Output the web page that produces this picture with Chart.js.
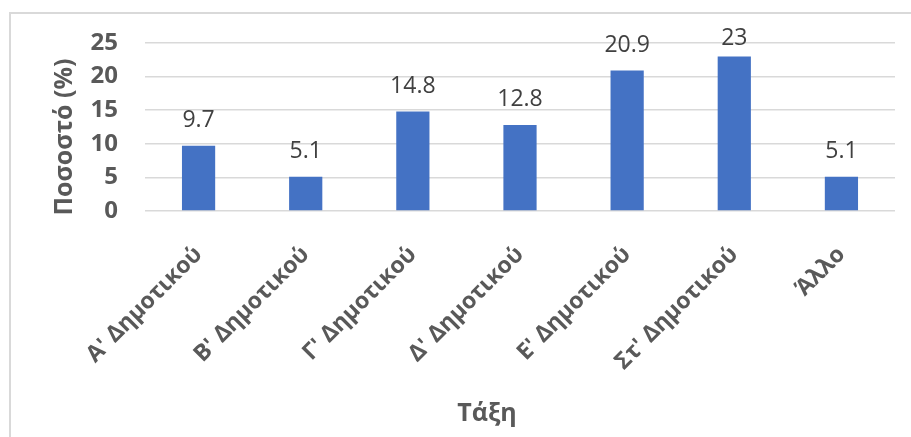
<!DOCTYPE html>
<html>
<head>
<meta charset="utf-8">
<script src="https://cdn.jsdelivr.net/npm/chart.js@4"></script>
<style>
  html, body { margin: 0; padding: 0; background: #fff; }
  #wrap { position: relative; width: 911px; height: 437px; }
</style>
</head>
<body>
<div id="wrap"><canvas id="gradeChart"></canvas></div>
<script>
const grades = ["Α' Δημοτικού", "Β' Δημοτικού", "Γ' Δημοτικού", "Δ' Δημοτικού", "Ε' Δημοτικού", "Στ' Δημοτικού", "Άλλο"];
const percents = [9.7, 5.1, 14.8, 12.8, 20.9, 23, 5.1];
const yTicks = [0, 5, 10, 15, 20, 25];

const FONT = "'Open Sans', 'Noto Sans', sans-serif";
const GREY = '#595959';

document.addEventListener('DOMContentLoaded', function () {
    const canvas = document.getElementById('gradeChart');
    const ctx = canvas.getContext('2d');

    new Chart(ctx, {
        type: 'bar',
        data: {
            labels: grades,
            datasets: [{
                data: percents,
                backgroundColor: '#4472C4',
                borderWidth: 0,
                categoryPercentage: 1,
                barPercentage: 0.31
            }]
        },
        options: {
            responsive: true,
            maintainAspectRatio: false,
            animation: false,
            layout: {
                padding: { top: 43, right: 16, bottom: 0, left: 0 }
            },
            scales: {
                x: {
                    grid: { display: false, drawTicks: false },
                    border: { display: false },
                    ticks: {
                        minRotation: 45,
                        maxRotation: 45,
                        padding: 30,
                        color: GREY,
                        font: { family: FONT, size: 23, weight: 'bold' }
                    },
                    afterFit: (scale) => { scale.height = 226; }
                },
                y: {
                    min: 0,
                    max: 25,
                    afterBuildTicks: (scale) => {
                        scale.ticks = yTicks.map(v => ({ value: v }));
                    },
                    grid: { color: '#d9d9d9', lineWidth: 1.5, drawTicks: false },
                    border: { display: false },
                    ticks: {
                        padding: 27,
                        color: GREY,
                        font: { family: FONT, size: 24, weight: 'bold' }
                    },
                    afterFit: (scale) => { scale.width = 145; }
                }
            },
            plugins: {
                legend: { display: false },
                tooltip: { enabled: false }
            }
        },
        plugins: [{
            id: 'frame',
            beforeDraw: (chart) => {
                const c = chart.ctx;
                c.save();
                c.strokeStyle = '#d9d9d9';
                c.lineWidth = 2;
                c.beginPath();
                c.moveTo(10, chart.height);
                c.lineTo(10, 13);
                c.lineTo(chart.width, 13);
                c.stroke();
                c.restore();
            }
        }, {
            id: 'valueLabels',
            afterDatasetsDraw: (chart) => {
                const c = chart.ctx;
                const area = chart.chartArea;
                const meta = chart.getDatasetMeta(0);
                c.save();
                c.fillStyle = '#404040';
                c.font = '23px ' + FONT;
                c.textAlign = 'center';
                c.textBaseline = 'alphabetic';
                meta.data.forEach((bar, i) => {
                    const y = Math.max(bar.y - 19, area.top + 2);
                    c.fillText(String(percents[i]), bar.x, y);
                });
                c.restore();
            }
        }, {
            id: 'axisTitles',
            afterDraw: (chart) => {
                const c = chart.ctx;
                const area = chart.chartArea;
                c.save();
                c.fillStyle = GREY;
                c.font = 'bold 25px ' + FONT;
                c.textAlign = 'center';
                c.textBaseline = 'middle';
                c.fillText('Τάξη', area.left + (area.right - area.left) * 0.456, 414);
                c.translate(65, (area.top + area.bottom) / 2 + 10);
                c.rotate(-Math.PI / 2);
                c.fillText('Ποσοστό (%)', 0, 0);
                c.restore();
            }
        }]
    });
});
</script>
</body>
</html>
